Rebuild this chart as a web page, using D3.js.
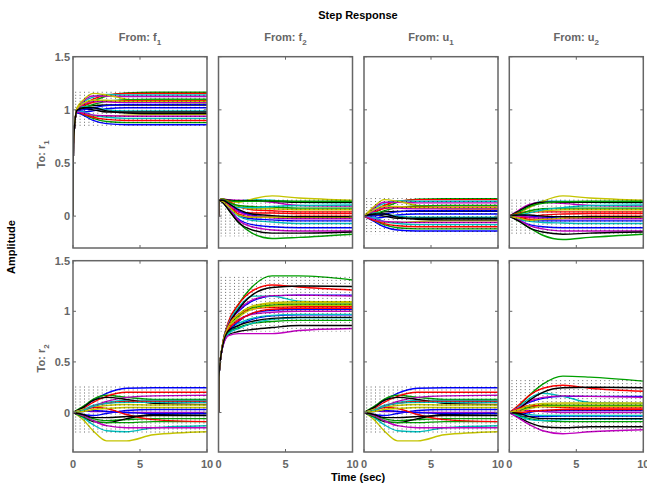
<!DOCTYPE html>
<html>
<head>
<meta charset="utf-8">
<script src="https://cdn.jsdelivr.net/npm/d3@7"></script>
<style>
  body { margin: 0; background: #fff; }
  svg { display: block; font-family: "Liberation Sans", Arial, sans-serif; font-weight: bold; }
</style>
</head>
<body>
<div id="chart"></div>
<script>
// Step response of 21 sampled uncertain models, 2 outputs x 4 inputs.
const W = 647, H = 484;

// time knots (sec) at which each sampled response is read
const T_U = [0, 0.75, 1.5, 2.5, 4, 6, 10];
const T_F = [0, 0.03, 0.3, 0.75, 1.5, 2.5, 4, 6, 10];

const inputs = [["f", "1"], ["f", "2"], ["u", "1"], ["u", "2"]];
const outputs = [["r", "1"], ["r", "2"]];
const yTicks = [0, 0.5, 1, 1.5];
const yTickLabels = ["0", "0.5", "1", "1.5"];
const xTicks = [0, 5, 10];
const sampleColors = ["#0000ff", "#00a000", "#ff0000", "#00bfbf", "#bf00bf", "#c4c400", "#000000"];

// To: r1, From: f1  (T_F)
const r1_f1 = [
  [0, 0.68, 0.97, 0.95, 0.90, 0.87, 0.86, 0.86, 0.86],
  [0, 0.68, 1.00, 1.03, 1.08, 1.13, 1.16, 1.165, 1.165],
  [0, 0.68, 1.00, 1.05, 1.10, 1.14, 1.155, 1.155, 1.155],
  [0, 0.68, 1.01, 1.07, 1.12, 1.145, 1.14, 1.14, 1.14],
  [0, 0.68, 1.01, 1.08, 1.13, 1.13, 1.125, 1.125, 1.125],
  [0, 0.68, 1.02, 1.09, 1.155, 1.14, 1.10, 1.07, 1.065],
  [0, 0.68, 0.995, 1.02, 1.04, 1.045, 1.045, 1.045, 1.045],
  [0, 0.68, 0.985, 0.98, 0.99, 1.01, 1.02, 1.02, 1.02],
  [0, 0.68, 0.995, 1.02, 1.05, 1.08, 1.095, 1.10, 1.10],
  [0, 0.68, 1.00, 1.04, 1.07, 1.085, 1.085, 1.085, 1.085],
  [0, 0.68, 1.00, 1.03, 1.02, 1.00, 0.99, 0.99, 0.99],
  [0, 0.68, 1.005, 1.05, 1.08, 1.075, 1.07, 1.07, 1.07],
  [0, 0.68, 0.98, 0.97, 0.94, 0.94, 0.95, 0.955, 0.955],
  [0, 0.68, 0.995, 1.01, 1.00, 0.98, 0.98, 0.98, 0.98],
  [0, 0.68, 0.99, 1.00, 1.02, 1.04, 1.05, 1.05, 1.05],
  [0, 0.68, 0.98, 0.96, 0.92, 0.89, 0.88, 0.88, 0.88],
  [0, 0.68, 0.98, 0.96, 0.93, 0.91, 0.90, 0.90, 0.90],
  [0, 0.68, 0.985, 0.98, 0.95, 0.93, 0.92, 0.92, 0.92],
  [0, 0.68, 0.98, 0.97, 0.95, 0.945, 0.94, 0.94, 0.94],
  [0, 0.68, 1.01, 1.06, 1.09, 1.09, 1.08, 1.08, 1.08],
  [0, 0.68, 0.995, 1.02, 1.02, 0.99, 0.97, 0.965, 0.965]
];

// To: r1, From: f2  (T_F)
const r1_f2 = [
  [0, 0.15, 0.13, 0.07, -0.03, -0.08, -0.10, -0.11, -0.11],
  [0, 0.15, 0.13, 0.06, -0.06, -0.16, -0.21, -0.20, -0.17],
  [0, 0.15, 0.14, 0.09, 0.04, 0.03, 0.03, 0.025, 0.025],
  [0, 0.15, 0.16, 0.15, 0.145, 0.155, 0.15, 0.13, 0.125],
  [0, 0.15, 0.16, 0.155, 0.15, 0.145, 0.13, 0.10, 0.095],
  [0, 0.15, 0.16, 0.14, 0.13, 0.16, 0.19, 0.17, 0.15],
  [0, 0.15, 0.16, 0.15, 0.145, 0.145, 0.14, 0.13, 0.13],
  [0, 0.15, 0.14, 0.08, 0.01, -0.025, -0.035, -0.045, -0.045],
  [0, 0.15, 0.16, 0.145, 0.14, 0.14, 0.145, 0.14, 0.14],
  [0, 0.15, 0.16, 0.14, 0.09, 0.06, 0.05, 0.04, 0.04],
  [0, 0.15, 0.14, 0.08, 0.0, -0.04, -0.055, -0.07, -0.07],
  [0, 0.15, 0.13, 0.07, -0.04, -0.10, -0.13, -0.14, -0.14],
  [0, 0.15, 0.16, 0.13, 0.09, 0.07, 0.07, 0.06, 0.06],
  [0, 0.15, 0.13, 0.06, -0.06, -0.13, -0.16, -0.16, -0.15],
  [0, 0.15, 0.15, 0.12, 0.05, 0.01, -0.01, -0.02, -0.02],
  [0, 0.15, 0.16, 0.13, 0.10, 0.09, 0.085, 0.075, 0.075],
  [0, 0.15, 0.15, 0.10, 0.02, -0.01, -0.01, 0.0, 0.0],
  [0, 0.15, 0.15, 0.12, 0.08, 0.08, 0.09, 0.10, 0.105],
  [0, 0.15, 0.15, 0.11, 0.04, 0.0, -0.015, -0.025, -0.025],
  [0, 0.15, 0.14, 0.09, 0.01, -0.01, -0.01, -0.01, -0.01],
  [0, 0.15, 0.15, 0.12, 0.06, 0.02, 0.005, -0.005, -0.005]
];

// To: r1, From: u1  (T_U)
const r1_u1 = [
  [0, -0.05, -0.10, -0.13, -0.14, -0.14, -0.14],
  [0, 0.03, 0.08, 0.13, 0.16, 0.165, 0.165],
  [0, 0.05, 0.10, 0.14, 0.155, 0.155, 0.155],
  [0, 0.07, 0.12, 0.145, 0.14, 0.14, 0.14],
  [0, 0.08, 0.13, 0.13, 0.125, 0.125, 0.125],
  [0, 0.09, 0.155, 0.14, 0.10, 0.07, 0.065],
  [0, 0.02, 0.04, 0.045, 0.045, 0.045, 0.045],
  [0, -0.02, -0.01, 0.01, 0.02, 0.02, 0.02],
  [0, 0.02, 0.05, 0.08, 0.095, 0.10, 0.10],
  [0, 0.04, 0.07, 0.085, 0.085, 0.085, 0.085],
  [0, 0.03, 0.02, 0.0, -0.01, -0.01, -0.01],
  [0, 0.05, 0.08, 0.075, 0.07, 0.07, 0.07],
  [0, -0.03, -0.06, -0.06, -0.05, -0.045, -0.045],
  [0, 0.01, 0.0, -0.02, -0.02, -0.02, -0.02],
  [0, 0.0, 0.02, 0.04, 0.05, 0.05, 0.05],
  [0, -0.04, -0.08, -0.11, -0.12, -0.12, -0.12],
  [0, -0.04, -0.07, -0.09, -0.10, -0.10, -0.10],
  [0, -0.02, -0.05, -0.07, -0.08, -0.08, -0.08],
  [0, -0.03, -0.05, -0.055, -0.06, -0.06, -0.06],
  [0, 0.06, 0.09, 0.09, 0.08, 0.08, 0.08],
  [0, 0.02, 0.02, -0.01, -0.03, -0.035, -0.035]
];

// To: r1, From: u2  (T_U)
const r1_u2 = [
  [0, -0.04, -0.08, -0.10, -0.11, -0.11, -0.11],
  [0, -0.05, -0.11, -0.18, -0.22, -0.20, -0.17],
  [0, -0.02, -0.01, 0.01, 0.02, 0.025, 0.025],
  [0, 0.05, 0.10, 0.14, 0.14, 0.13, 0.125],
  [0, 0.06, 0.11, 0.13, 0.12, 0.10, 0.095],
  [0, 0.03, 0.08, 0.14, 0.19, 0.17, 0.15],
  [0, 0.05, 0.10, 0.13, 0.13, 0.13, 0.13],
  [0, -0.03, -0.04, -0.045, -0.045, -0.045, -0.045],
  [0, 0.04, 0.09, 0.12, 0.135, 0.14, 0.14],
  [0, 0.03, 0.04, 0.04, 0.04, 0.04, 0.04],
  [0, -0.03, -0.05, -0.06, -0.065, -0.07, -0.07],
  [0, -0.04, -0.09, -0.12, -0.14, -0.14, -0.14],
  [0, 0.02, 0.04, 0.05, 0.06, 0.06, 0.06],
  [0, -0.05, -0.11, -0.15, -0.17, -0.16, -0.15],
  [0, 0.01, 0.0, -0.01, -0.02, -0.02, -0.02],
  [0, 0.02, 0.05, 0.07, 0.075, 0.075, 0.075],
  [0, -0.01, -0.03, -0.03, -0.02, 0.0, 0.0],
  [0, 0.01, 0.03, 0.06, 0.08, 0.10, 0.105],
  [0, 0.0, -0.01, -0.02, -0.025, -0.025, -0.025],
  [0, -0.02, -0.04, -0.03, -0.02, -0.01, -0.01],
  [0, 0.01, 0.01, 0.0, -0.005, -0.005, -0.005]
];

// To: r2, From: u1  (T_U) -- the f1 column reads the same
const r2_u1 = [
  [0, 0.05, 0.12, 0.19, 0.24, 0.245, 0.245],
  [0, 0.06, 0.13, 0.17, 0.15, 0.13, 0.13],
  [0, 0.04, 0.10, 0.16, 0.20, 0.20, 0.20],
  [0, 0.03, 0.07, 0.10, 0.12, 0.12, 0.12],
  [0, 0.02, 0.06, 0.11, 0.15, 0.165, 0.17],
  [0, -0.07, -0.18, -0.28, -0.28, -0.22, -0.19],
  [0, 0.05, 0.12, 0.15, 0.13, 0.09, 0.08],
  [0, -0.02, -0.03, -0.01, 0.02, 0.03, 0.03],
  [0, -0.03, -0.06, -0.08, -0.07, -0.06, -0.06],
  [0, 0.02, 0.06, 0.09, 0.11, 0.11, 0.11],
  [0, -0.05, -0.12, -0.18, -0.19, -0.15, -0.13],
  [0, 0.02, 0.01, 0.01, 0.0, 0.0, 0.0],
  [0, 0.03, 0.05, 0.07, 0.08, 0.075, 0.075],
  [0, -0.04, -0.09, -0.10, -0.06, -0.02, -0.01],
  [0, 0.01, 0.02, 0.01, 0.0, -0.01, -0.01],
  [0, -0.04, -0.08, -0.10, -0.10, -0.09, -0.09],
  [0, 0.02, 0.05, 0.04, -0.02, -0.07, -0.09],
  [0, 0.02, 0.06, 0.09, 0.10, 0.10, 0.10],
  [0, -0.03, -0.08, -0.13, -0.15, -0.15, -0.15],
  [0, 0.01, 0.03, 0.04, 0.05, 0.05, 0.05],
  [0, -0.02, -0.05, -0.05, -0.04, -0.03, -0.03]
];
const r2_f1 = r2_u1;

// To: r2, From: f2  (T_F)
const r2_f2 = [
  [0, 0.35, 0.66, 0.87, 1.00, 1.10, 1.15, 1.16, 1.16],
  [0, 0.35, 0.67, 0.89, 1.07, 1.24, 1.35, 1.35, 1.31],
  [0, 0.35, 0.67, 0.90, 1.07, 1.20, 1.26, 1.24, 1.21],
  [0, 0.35, 0.67, 0.88, 1.04, 1.15, 1.15, 1.10, 1.09],
  [0, 0.35, 0.66, 0.87, 1.01, 1.11, 1.155, 1.16, 1.15],
  [0, 0.35, 0.66, 0.85, 0.96, 1.04, 1.075, 1.085, 1.085],
  [0, 0.35, 0.66, 0.86, 1.02, 1.16, 1.235, 1.25, 1.245],
  [0, 0.35, 0.65, 0.79, 0.86, 0.92, 0.955, 0.965, 0.965],
  [0, 0.35, 0.66, 0.84, 0.95, 1.03, 1.06, 1.07, 1.07],
  [0, 0.35, 0.66, 0.86, 0.97, 1.02, 1.04, 1.045, 1.045],
  [0, 0.35, 0.65, 0.81, 0.88, 0.93, 0.96, 0.97, 0.97],
  [0, 0.35, 0.66, 0.84, 0.92, 0.97, 0.99, 1.00, 1.00],
  [0, 0.35, 0.66, 0.83, 0.94, 1.02, 1.05, 1.06, 1.06],
  [0, 0.35, 0.65, 0.77, 0.80, 0.82, 0.84, 0.86, 0.86],
  [0, 0.35, 0.65, 0.80, 0.90, 0.98, 1.01, 1.02, 1.02],
  [0, 0.35, 0.65, 0.79, 0.84, 0.88, 0.90, 0.91, 0.91],
  [0, 0.35, 0.66, 0.82, 0.91, 0.98, 1.02, 1.03, 1.03],
  [0, 0.35, 0.65, 0.78, 0.83, 0.88, 0.92, 0.935, 0.935],
  [0, 0.35, 0.64, 0.76, 0.78, 0.78, 0.78, 0.81, 0.83],
  [0, 0.35, 0.66, 0.85, 0.97, 1.05, 1.085, 1.095, 1.095],
  [0, 0.35, 0.65, 0.81, 0.86, 0.90, 0.93, 0.94, 0.94]
];

// To: r2, From: u2  (T_U)
const r2_u2 = [
  [0, 0.05, 0.10, 0.14, 0.16, 0.16, 0.16],
  [0, 0.07, 0.17, 0.28, 0.36, 0.35, 0.31],
  [0, 0.08, 0.17, 0.24, 0.27, 0.24, 0.21],
  [0, 0.06, 0.14, 0.19, 0.16, 0.10, 0.09],
  [0, 0.05, 0.11, 0.15, 0.165, 0.16, 0.15],
  [0, 0.03, 0.06, 0.08, 0.085, 0.085, 0.085],
  [0, 0.04, 0.12, 0.20, 0.245, 0.25, 0.245],
  [0, -0.03, -0.04, -0.04, -0.035, -0.035, -0.035],
  [0, 0.02, 0.05, 0.07, 0.07, 0.07, 0.07],
  [0, 0.04, 0.07, 0.06, 0.05, 0.045, 0.045],
  [0, -0.01, -0.02, -0.03, -0.03, -0.03, -0.03],
  [0, 0.02, 0.02, 0.01, 0.0, 0.0, 0.0],
  [0, 0.01, 0.04, 0.06, 0.06, 0.06, 0.06],
  [0, -0.05, -0.10, -0.14, -0.15, -0.14, -0.14],
  [0, -0.02, 0.0, 0.02, 0.02, 0.02, 0.02],
  [0, -0.03, -0.06, -0.08, -0.09, -0.09, -0.09],
  [0, 0.0, 0.01, 0.02, 0.03, 0.03, 0.03],
  [0, -0.04, -0.07, -0.08, -0.07, -0.065, -0.065],
  [0, -0.06, -0.12, -0.18, -0.21, -0.19, -0.17],
  [0, 0.03, 0.07, 0.09, 0.095, 0.095, 0.095],
  [0, -0.01, -0.04, -0.06, -0.06, -0.06, -0.06]
];

// dotted band [low, high] drawn in each panel
const bandRow1 = [[0.84, 1.17], [-0.19, 0.155], [-0.17, 0.17], [-0.17, 0.155]];
const bandRow2 = [[-0.2, 0.257], [0.80, 1.34], [-0.2, 0.257], [-0.19, 0.32]];

const panelData = [
  [r1_f1, r1_f2, r1_u1, r1_u2],
  [r2_f1, r2_f2, r2_u1, r2_u2]
];
const panelTimes = [
  [T_F, T_F, T_U, T_U],
  [T_U, T_F, T_U, T_U]
];
const bands = [bandRow1, bandRow2];

// layout
const colLeft = [73, 218.5, 364, 509.3];
const colW = 134;
const rowTop = [56.7, 260.7];
const rowH = 191.3;
const yDomains = [[-0.3, 1.5], [-0.39, 1.5]];
const axisGray = "#666666";

const svg = d3.select("#chart").append("svg")
  .attr("width", W).attr("height", H);

const x = d3.scaleLinear().domain([0, 10]);
const line = d3.line().curve(d3.curveMonotoneX);

// dotted markers every third of a second
const dotTimes = d3.range(0.2, 10, 0.33);

outputs.forEach((out, r) => {
  const y = d3.scaleLinear().domain(yDomains[r]).range([rowTop[r] + rowH, rowTop[r]]);

  inputs.forEach((inp, c) => {
    const xs = x.copy().range([colLeft[c], colLeft[c] + colW]);
    const g = svg.append("g");
    const clipId = `clip-${r}-${c}`;
    svg.append("clipPath").attr("id", clipId).append("rect")
      .attr("x", colLeft[c]).attr("y", rowTop[r])
      .attr("width", colW).attr("height", rowH);

    const plot = g.append("g").attr("clip-path", `url(#${clipId})`);
    const times = panelTimes[r][c];

    panelData[r][c].forEach((vals, i) => {
      plot.append("path")
        .attr("d", line(vals.map((v, k) => [xs(times[k]), y(v)])))
        .attr("fill", "none")
        .attr("stroke", sampleColors[i % sampleColors.length])
        .attr("stroke-width", 1.4);
    });

    const band = bands[r][c];
    plot.selectAll(".dot").data(dotTimes).enter().append("line")
      .attr("x1", d => xs(d)).attr("x2", d => xs(d))
      .attr("y1", y(band[1])).attr("y2", y(band[0]))
      .attr("stroke", "#000").attr("stroke-width", 0.8)
      .attr("stroke-dasharray", "1,2").attr("opacity", 0.75);

    // frame
    g.append("rect")
      .attr("x", colLeft[c]).attr("y", rowTop[r])
      .attr("width", colW).attr("height", rowH)
      .attr("fill", "none").attr("stroke", axisGray).attr("stroke-width", 1.5);

    // inward ticks
    const tk = 3;
    xTicks.forEach(t => {
      g.append("line").attr("x1", xs(t)).attr("x2", xs(t))
        .attr("y1", rowTop[r] + rowH).attr("y2", rowTop[r] + rowH - tk)
        .attr("stroke", axisGray);
      g.append("line").attr("x1", xs(t)).attr("x2", xs(t))
        .attr("y1", rowTop[r]).attr("y2", rowTop[r] + tk)
        .attr("stroke", axisGray);
    });
    yTicks.forEach(t => {
      g.append("line").attr("x1", colLeft[c]).attr("x2", colLeft[c] + tk)
        .attr("y1", y(t)).attr("y2", y(t)).attr("stroke", axisGray);
      g.append("line").attr("x1", colLeft[c] + colW).attr("x2", colLeft[c] + colW - tk)
        .attr("y1", y(t)).attr("y2", y(t)).attr("stroke", axisGray);
    });

    if (c === 0) {
      yTicks.forEach((t, k) => {
        svg.append("text")
          .attr("x", colLeft[c] - 3).attr("y", y(t) + 4)
          .attr("text-anchor", "end").attr("font-size", 11)
          .attr("fill", axisGray).text(yTickLabels[k]);
      });
    }
    if (r === 1) {
      xTicks.forEach(t => {
        svg.append("text")
          .attr("x", xs(t)).attr("y", rowTop[r] + rowH + 16)
          .attr("text-anchor", "middle").attr("font-size", 11)
          .attr("fill", axisGray).text(t);
      });
    }
  });

  // row label "To: r_n"
  const lab = svg.append("text")
    .attr("transform", `translate(45,${rowTop[r] + rowH / 2 + 2}) rotate(-90)`)
    .attr("text-anchor", "middle").attr("font-size", 11).attr("fill", axisGray);
  lab.append("tspan").text(`To: ${out[0]}`);
  lab.append("tspan").attr("dy", 4).attr("font-size", 8).text(out[1]);
});

// column labels "From: x_n"
inputs.forEach((inp, c) => {
  const t = svg.append("text")
    .attr("x", colLeft[c] + colW / 2).attr("y", 41)
    .attr("text-anchor", "middle").attr("font-size", 11).attr("fill", axisGray);
  t.append("tspan").text(`From: ${inp[0]}`);
  t.append("tspan").attr("dy", 4).attr("font-size", 8).text(inp[1]);
});

svg.append("text")
  .attr("x", 358).attr("y", 19).attr("text-anchor", "middle")
  .attr("font-size", 11).attr("fill", "#000").text("Step Response");

svg.append("text")
  .attr("x", 358).attr("y", 481).attr("text-anchor", "middle")
  .attr("font-size", 11).attr("fill", "#000").text("Time (sec)");

svg.append("text")
  .attr("transform", "translate(15,247) rotate(-90)")
  .attr("text-anchor", "middle").attr("font-size", 11)
  .attr("fill", "#000").text("Amplitude");
</script>
</body>
</html>
